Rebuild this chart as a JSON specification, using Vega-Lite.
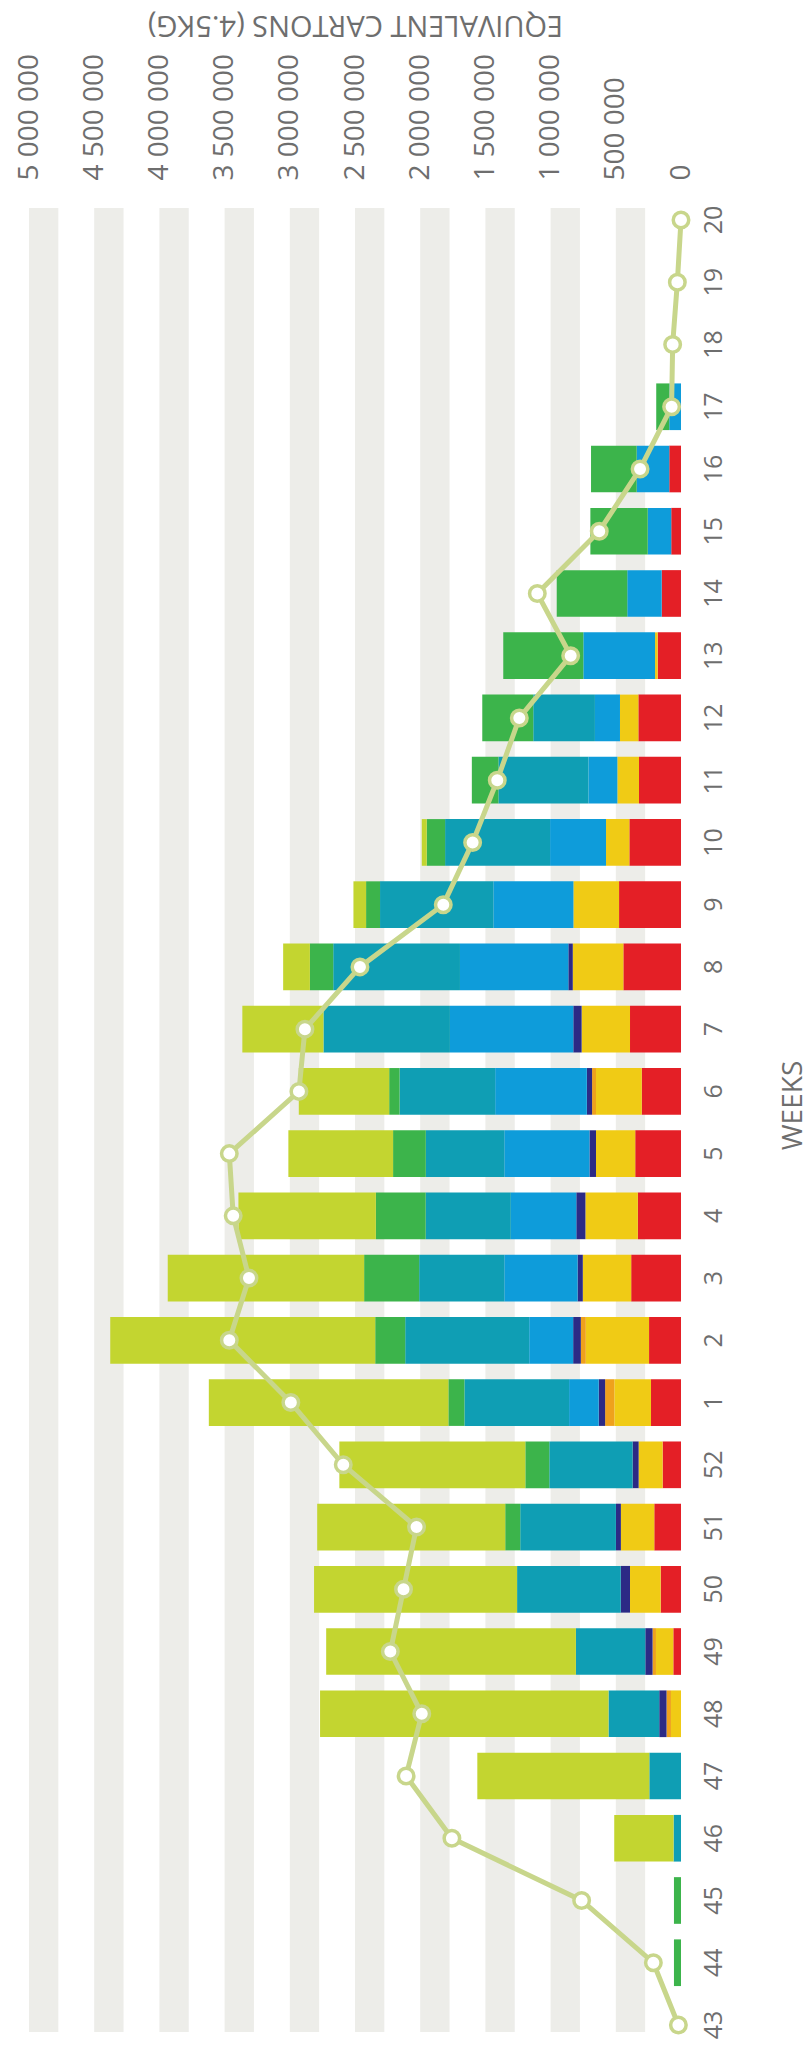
{
  "$schema": "https://vega.github.io/schema/vega-lite/v6.json",
  "width": 652,
  "height": 1824,
  "autosize": "none",
  "padding": {"left": 29, "top": 208, "right": 127, "bottom": 21},
  "background": "white",
  "config": {
    "view": {"stroke": null},
    "font": "Open Sans",
    "locale": {"number": {"decimal": ".", "thousands": " ", "grouping": [3], "currency": ["", ""]}}
  },
  "datasets": {
    "stripes": [
      {"from": 500000, "to": 275000},
      {"from": 1000000, "to": 775000},
      {"from": 1500000, "to": 1275000},
      {"from": 2000000, "to": 1775000},
      {"from": 2500000, "to": 2275000},
      {"from": 3000000, "to": 2775000},
      {"from": 3500000, "to": 3275000},
      {"from": 4000000, "to": 3775000},
      {"from": 4500000, "to": 4275000},
      {"from": 5000000, "to": 4775000}
    ],
    "bars": [
      {"week": 17, "cat": "5 Light blue", "value": 90000},
      {"week": 17, "cat": "7 Green", "value": 100000},
      {"week": 16, "cat": "1 Red", "value": 90000},
      {"week": 16, "cat": "5 Light blue", "value": 250000},
      {"week": 16, "cat": "7 Green", "value": 350000},
      {"week": 15, "cat": "1 Red", "value": 75000},
      {"week": 15, "cat": "5 Light blue", "value": 180000},
      {"week": 15, "cat": "7 Green", "value": 440000},
      {"week": 14, "cat": "1 Red", "value": 148000},
      {"week": 14, "cat": "5 Light blue", "value": 264000},
      {"week": 14, "cat": "7 Green", "value": 541000},
      {"week": 13, "cat": "1 Red", "value": 179000},
      {"week": 13, "cat": "2 Yellow", "value": 20000},
      {"week": 13, "cat": "5 Light blue", "value": 550000},
      {"week": 13, "cat": "7 Green", "value": 614000},
      {"week": 12, "cat": "1 Red", "value": 327000},
      {"week": 12, "cat": "2 Yellow", "value": 141000},
      {"week": 12, "cat": "5 Light blue", "value": 192000},
      {"week": 12, "cat": "6 Teal", "value": 473000},
      {"week": 12, "cat": "7 Green", "value": 391000},
      {"week": 11, "cat": "1 Red", "value": 322000},
      {"week": 11, "cat": "2 Yellow", "value": 166000},
      {"week": 11, "cat": "5 Light blue", "value": 222000},
      {"week": 11, "cat": "6 Teal", "value": 690000},
      {"week": 11, "cat": "7 Green", "value": 204000},
      {"week": 10, "cat": "1 Red", "value": 396000},
      {"week": 10, "cat": "2 Yellow", "value": 179000},
      {"week": 10, "cat": "5 Light blue", "value": 429000},
      {"week": 10, "cat": "6 Teal", "value": 805000},
      {"week": 10, "cat": "7 Green", "value": 141000},
      {"week": 10, "cat": "8 Lime", "value": 38000},
      {"week": 9, "cat": "1 Red", "value": 475000},
      {"week": 9, "cat": "2 Yellow", "value": 350000},
      {"week": 9, "cat": "5 Light blue", "value": 614000},
      {"week": 9, "cat": "6 Teal", "value": 869000},
      {"week": 9, "cat": "7 Green", "value": 107000},
      {"week": 9, "cat": "8 Lime", "value": 97000},
      {"week": 8, "cat": "1 Red", "value": 442000},
      {"week": 8, "cat": "2 Yellow", "value": 388000},
      {"week": 8, "cat": "4 Navy", "value": 34000},
      {"week": 8, "cat": "5 Light blue", "value": 831000},
      {"week": 8, "cat": "6 Teal", "value": 972000},
      {"week": 8, "cat": "7 Green", "value": 179000},
      {"week": 8, "cat": "8 Lime", "value": 205000},
      {"week": 7, "cat": "1 Red", "value": 391000},
      {"week": 7, "cat": "2 Yellow", "value": 371000},
      {"week": 7, "cat": "4 Navy", "value": 64000},
      {"week": 7, "cat": "5 Light blue", "value": 946000},
      {"week": 7, "cat": "6 Teal", "value": 970000},
      {"week": 7, "cat": "8 Lime", "value": 622000},
      {"week": 6, "cat": "1 Red", "value": 301000},
      {"week": 6, "cat": "2 Yellow", "value": 351000},
      {"week": 6, "cat": "3 Orange", "value": 30000},
      {"week": 6, "cat": "4 Navy", "value": 40000},
      {"week": 6, "cat": "5 Light blue", "value": 703000},
      {"week": 6, "cat": "6 Teal", "value": 733000},
      {"week": 6, "cat": "7 Green", "value": 80000},
      {"week": 6, "cat": "8 Lime", "value": 693000},
      {"week": 5, "cat": "1 Red", "value": 351000},
      {"week": 5, "cat": "2 Yellow", "value": 301000},
      {"week": 5, "cat": "4 Navy", "value": 50000},
      {"week": 5, "cat": "5 Light blue", "value": 653000},
      {"week": 5, "cat": "6 Teal", "value": 602000},
      {"week": 5, "cat": "7 Green", "value": 251000},
      {"week": 5, "cat": "8 Lime", "value": 803000},
      {"week": 4, "cat": "1 Red", "value": 331000},
      {"week": 4, "cat": "2 Yellow", "value": 402000},
      {"week": 4, "cat": "4 Navy", "value": 70000},
      {"week": 4, "cat": "5 Light blue", "value": 502000},
      {"week": 4, "cat": "6 Teal", "value": 653000},
      {"week": 4, "cat": "7 Green", "value": 382000},
      {"week": 4, "cat": "8 Lime", "value": 1054000},
      {"week": 3, "cat": "1 Red", "value": 382000},
      {"week": 3, "cat": "2 Yellow", "value": 371000},
      {"week": 3, "cat": "4 Navy", "value": 40000},
      {"week": 3, "cat": "5 Light blue", "value": 562000},
      {"week": 3, "cat": "6 Teal", "value": 653000},
      {"week": 3, "cat": "7 Green", "value": 422000},
      {"week": 3, "cat": "8 Lime", "value": 1506000},
      {"week": 2, "cat": "1 Red", "value": 245000},
      {"week": 2, "cat": "2 Yellow", "value": 485000},
      {"week": 2, "cat": "3 Orange", "value": 38000},
      {"week": 2, "cat": "4 Navy", "value": 59000},
      {"week": 2, "cat": "5 Light blue", "value": 337000},
      {"week": 2, "cat": "6 Teal", "value": 951000},
      {"week": 2, "cat": "7 Green", "value": 230000},
      {"week": 2, "cat": "8 Lime", "value": 2032000},
      {"week": 1, "cat": "1 Red", "value": 230000},
      {"week": 1, "cat": "2 Yellow", "value": 281000},
      {"week": 1, "cat": "3 Orange", "value": 71000},
      {"week": 1, "cat": "4 Navy", "value": 49000},
      {"week": 1, "cat": "5 Light blue", "value": 227000},
      {"week": 1, "cat": "6 Teal", "value": 803000},
      {"week": 1, "cat": "7 Green", "value": 123000},
      {"week": 1, "cat": "8 Lime", "value": 1837000},
      {"week": 52, "cat": "1 Red", "value": 141000},
      {"week": 52, "cat": "2 Yellow", "value": 184000},
      {"week": 52, "cat": "4 Navy", "value": 46000},
      {"week": 52, "cat": "6 Teal", "value": 639000},
      {"week": 52, "cat": "7 Green", "value": 184000},
      {"week": 52, "cat": "8 Lime", "value": 1426000},
      {"week": 51, "cat": "1 Red", "value": 205000},
      {"week": 51, "cat": "2 Yellow", "value": 256000},
      {"week": 51, "cat": "4 Navy", "value": 38000},
      {"week": 51, "cat": "6 Teal", "value": 734000},
      {"week": 51, "cat": "7 Green", "value": 115000},
      {"week": 51, "cat": "8 Lime", "value": 1442000},
      {"week": 50, "cat": "1 Red", "value": 156000},
      {"week": 50, "cat": "2 Yellow", "value": 235000},
      {"week": 50, "cat": "4 Navy", "value": 71000},
      {"week": 50, "cat": "6 Teal", "value": 795000},
      {"week": 50, "cat": "8 Lime", "value": 1557000},
      {"week": 49, "cat": "1 Red", "value": 59000},
      {"week": 49, "cat": "2 Yellow", "value": 133000},
      {"week": 49, "cat": "3 Orange", "value": 26000},
      {"week": 49, "cat": "4 Navy", "value": 56000},
      {"week": 49, "cat": "6 Teal", "value": 532000},
      {"week": 49, "cat": "8 Lime", "value": 1915000},
      {"week": 48, "cat": "2 Yellow", "value": 77000},
      {"week": 48, "cat": "3 Orange", "value": 34000},
      {"week": 48, "cat": "4 Navy", "value": 56000},
      {"week": 48, "cat": "6 Teal", "value": 389000},
      {"week": 48, "cat": "8 Lime", "value": 2212000},
      {"week": 47, "cat": "6 Teal", "value": 243000},
      {"week": 47, "cat": "8 Lime", "value": 1319000},
      {"week": 46, "cat": "6 Teal", "value": 57000},
      {"week": 46, "cat": "8 Lime", "value": 455000},
      {"week": 45, "cat": "7 Green", "value": 54000},
      {"week": 44, "cat": "7 Green", "value": 54000}
    ],
    "line": [
      {"week": 20, "total": 0},
      {"week": 19, "total": 28000},
      {"week": 18, "total": 64000},
      {"week": 17, "total": 72000},
      {"week": 16, "total": 314000},
      {"week": 15, "total": 627000},
      {"week": 14, "total": 1102000},
      {"week": 13, "total": 846000},
      {"week": 12, "total": 1240000},
      {"week": 11, "total": 1409000},
      {"week": 10, "total": 1598000},
      {"week": 9, "total": 1823000},
      {"week": 8, "total": 2462000},
      {"week": 7, "total": 2884000},
      {"week": 6, "total": 2930000},
      {"week": 5, "total": 3464000},
      {"week": 4, "total": 3434000},
      {"week": 3, "total": 3313000},
      {"week": 2, "total": 3464000},
      {"week": 1, "total": 2992000},
      {"week": 52, "total": 2590000},
      {"week": 51, "total": 2028000},
      {"week": 50, "total": 2128000},
      {"week": 49, "total": 2229000},
      {"week": 48, "total": 1988000},
      {"week": 47, "total": 2108000},
      {"week": 46, "total": 1757000},
      {"week": 45, "total": 762000},
      {"week": 44, "total": 212000},
      {"week": 43, "total": 20000}
    ]
  },
  "layer": [
    {
      "data": {"name": "stripes"},
      "mark": {"type": "rect", "color": "#EDEDE9"},
      "encoding": {
        "x": {
          "field": "from",
          "type": "quantitative",
          "title": "EQUIVALENT CARTONS (4.5KG)",
          "scale": {"domain": [0, 5000000], "reverse": true, "nice": false, "zero": true},
          "axis": {
            "orient": "top",
            "values": [0, 500000, 1000000, 1500000, 2000000, 2500000, 3000000, 3500000, 4000000, 4500000, 5000000],
            "format": ",d",
            "labelAngle": -90,
            "labelAlign": "left",
            "labelBaseline": "middle",
            "labelPadding": 28,
            "labelFlush": false,
            "labelOverlap": false,
            "ticks": false,
            "domain": false,
            "grid": false,
            "labelFont": "Open Sans",
            "labelFontSize": 28,
            "labelColor": "#6e6e6e",
            "titleFont": "Open Sans",
            "titleFontSize": 29,
            "titleFontWeight": "normal",
            "titleColor": "#6e6e6e",
            "titleAngle": 180,
            "titleAlign": "center",
            "titleBaseline": "middle",
            "titleX": 326,
            "titleY": -184
          }
        },
        "x2": {"field": "to"}
      }
    },
    {
      "data": {"name": "bars"},
      "mark": {"type": "bar"},
      "encoding": {
        "y": {
          "field": "week",
          "type": "ordinal",
          "title": "WEEKS",
          "scale": {
            "type": "band",
            "domain": [20, 19, 18, 17, 16, 15, 14, 13, 12, 11, 10, 9, 8, 7, 6, 5, 4, 3, 2, 1, 52, 51, 50, 49, 48, 47, 46, 45, 44, 43],
            "range": [-11.3, 1840.3],
            "paddingInner": 0.25,
            "paddingOuter": 0
          },
          "axis": {
            "orient": "right",
            "labelAngle": -90,
            "labelAlign": "center",
            "labelBaseline": "middle",
            "labelPadding": 32,
            "ticks": false,
            "domain": false,
            "grid": false,
            "labelFont": "Open Sans",
            "labelFontSize": 25,
            "labelColor": "#6e6e6e",
            "titleFont": "Open Sans",
            "titleFontSize": 28,
            "titleFontWeight": "normal",
            "titleColor": "#6e6e6e",
            "titleAngle": -90,
            "titleAlign": "center",
            "titleBaseline": "middle",
            "titleX": 112,
            "titleY": 897
          }
        },
        "x": {"field": "value", "type": "quantitative", "stack": "zero", "title": "EQUIVALENT CARTONS (4.5KG)"},
        "color": {
          "field": "cat",
          "type": "nominal",
          "scale": {
            "domain": ["1 Red", "2 Yellow", "3 Orange", "4 Navy", "5 Light blue", "6 Teal", "7 Green", "8 Lime"],
            "range": ["#E41F26", "#F0CB15", "#EFA11C", "#2C2A85", "#0E9CDA", "#0F9EB4", "#3CB44B", "#C3D530"]
          },
          "legend": null
        },
        "order": {"field": "cat", "sort": "ascending"}
      }
    },
    {
      "data": {"name": "line"},
      "mark": {"type": "line", "color": "#C8D68B", "strokeWidth": 5},
      "encoding": {
        "y": {"field": "week", "type": "ordinal", "title": "WEEKS"},
        "x": {"field": "total", "type": "quantitative", "title": "EQUIVALENT CARTONS (4.5KG)"},
        "order": {"value": null}
      }
    },
    {
      "data": {"name": "line"},
      "mark": {"type": "point", "filled": true, "fill": "white", "stroke": "#C8D68B", "strokeWidth": 3.5, "size": 240, "opacity": 1, "fillOpacity": 1},
      "encoding": {
        "y": {"field": "week", "type": "ordinal", "title": "WEEKS"},
        "x": {"field": "total", "type": "quantitative", "title": "EQUIVALENT CARTONS (4.5KG)"}
      }
    }
  ]
}
